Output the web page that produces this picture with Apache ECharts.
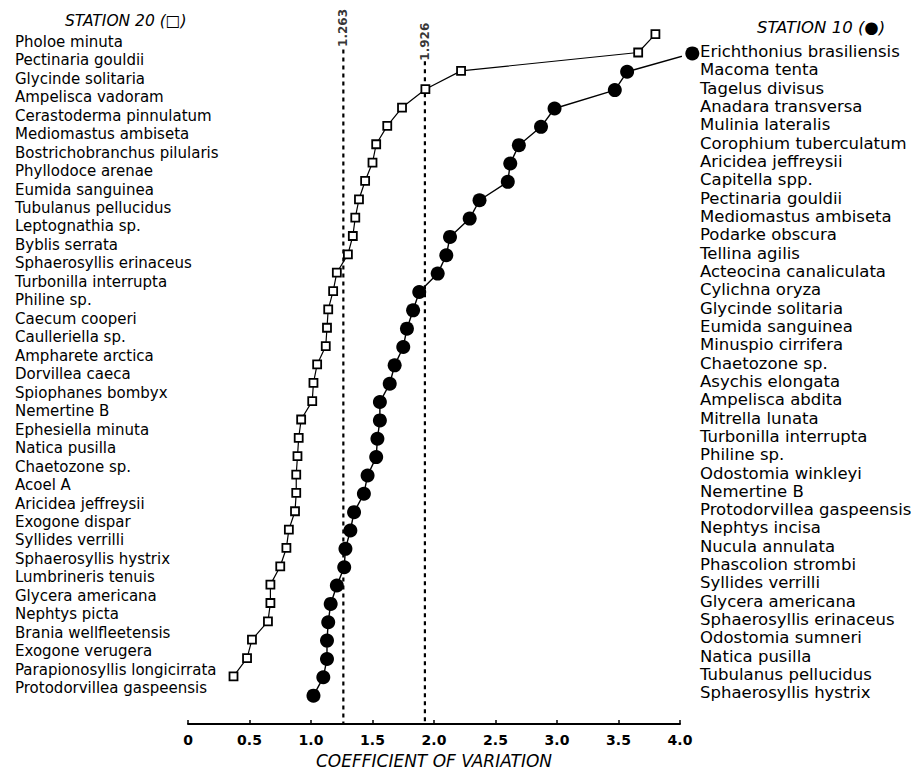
<!DOCTYPE html>
<html><head><meta charset="utf-8">
<script src="https://cdn.jsdelivr.net/npm/echarts@6/dist/echarts.min.js"></script>
<style>html,body{margin:0;padding:0;background:#fff}#c{width:917px;height:774px}</style>
</head><body><div id="c"></div>
<script>
const station20Species = [
  'Pholoe minuta','Pectinaria gouldii','Glycinde solitaria','Ampelisca vadoram',
  'Cerastoderma pinnulatum','Mediomastus ambiseta','Bostrichobranchus pilularis',
  'Phyllodoce arenae','Eumida sanguinea','Tubulanus pellucidus','Leptognathia sp.',
  'Byblis serrata','Sphaerosyllis erinaceus','Turbonilla interrupta','Philine sp.',
  'Caecum cooperi','Caulleriella sp.','Ampharete arctica','Dorvillea caeca',
  'Spiophanes bombyx','Nemertine B','Ephesiella minuta','Natica pusilla',
  'Chaetozone sp.','Acoel A','Aricidea jeffreysii','Exogone dispar',
  'Syllides verrilli','Sphaerosyllis hystrix','Lumbrineris tenuis',
  'Glycera americana','Nephtys picta','Brania wellfleetensis','Exogone verugera',
  'Parapionosyllis longicirrata','Protodorvillea gaspeensis'
];
const station20CV = [
  3.80, 3.66, 2.22, 1.93, 1.74, 1.62, 1.53, 1.50, 1.44, 1.39, 1.36, 1.34,
  1.30, 1.21, 1.18, 1.14, 1.13, 1.12, 1.05, 1.02, 1.01, 0.92, 0.90, 0.89,
  0.88, 0.88, 0.87, 0.82, 0.80, 0.75, 0.67, 0.67, 0.65, 0.52, 0.48, 0.37
];
const station10Species = [
  'Erichthonius brasiliensis','Macoma tenta','Tagelus divisus','Anadara transversa',
  'Mulinia lateralis','Corophium tuberculatum','Aricidea jeffreysii','Capitella spp.',
  'Pectinaria gouldii','Mediomastus ambiseta','Podarke obscura','Tellina agilis',
  'Acteocina canaliculata','Cylichna oryza','Glycinde solitaria','Eumida sanguinea',
  'Minuspio cirrifera','Chaetozone sp.','Asychis elongata','Ampelisca abdita',
  'Mitrella lunata','Turbonilla interrupta','Philine sp.','Odostomia winkleyi',
  'Nemertine B','Protodorvillea gaspeensis','Nephtys incisa','Nucula annulata',
  'Phascolion strombi','Syllides verrilli','Glycera americana',
  'Sphaerosyllis erinaceus','Odostomia sumneri','Natica pusilla',
  'Tubulanus pellucidus','Sphaerosyllis hystrix'
];
const station10CV = [
  4.10, 3.57, 3.47, 2.98, 2.87, 2.69, 2.62, 2.60, 2.37, 2.29, 2.13, 2.10,
  2.03, 1.88, 1.83, 1.78, 1.75, 1.68, 1.64, 1.56, 1.56, 1.54, 1.53, 1.46,
  1.43, 1.35, 1.32, 1.28, 1.27, 1.21, 1.16, 1.14, 1.13, 1.13, 1.10, 1.02
];
const xTickLabels = ['0','0.5','1.0','1.5','2.0','2.5','3.0','3.5','4.0'];
const refValues = [1.263, 1.926];
const refLabels = ['1.263', '1.926'];

const FONT = 'DejaVu Sans';
const chart = echarts.init(document.getElementById('c'), null, {renderer: 'svg'});

// vertical layout helpers (in marker-row units)
const circleOffset = 1.05;
const refTop = [0.84, 1.48];
const refLabelY = [-0.34, 0.41];
const axisBottomRow = 37.6;

const seriesList = [
  {
    type: 'line', name: 'Station 20', xAxisIndex: 0, yAxisIndex: 0,
    data: station20CV.map((v, i) => [v, i]),
    symbol: 'rect', symbolSize: 8, clip: false,
    itemStyle: {color: '#fff', borderColor: '#000', borderWidth: 1.8},
    lineStyle: {color: '#000', width: 1.2},
    z: 5, animation: false
  },
  {
    type: 'line', name: 'Station 10', xAxisIndex: 0, yAxisIndex: 0,
    data: station10CV.map((v, i) => [v, i + circleOffset]),
    symbol: 'circle', symbolSize: 14, clip: false,
    itemStyle: {color: '#000'},
    lineStyle: {color: '#000', width: 1.4},
    z: 5, animation: false
  }
];
refValues.forEach((v, k) => {
  seriesList.push({
    type: 'line', xAxisIndex: 0, yAxisIndex: 0,
    data: [[v, refTop[k]], [v, axisBottomRow]],
    symbol: 'none', clip: false,
    lineStyle: {color: '#000', width: 2.2, type: [4, 4]},
    z: 2, animation: false
  });
  seriesList.push({
    type: 'scatter', xAxisIndex: 0, yAxisIndex: 0,
    data: [[v, refLabelY[k]]], clip: false,
    symbolSize: 1, itemStyle: {color: 'rgba(0,0,0,0)'},
    label: {show: true, position: 'inside', rotate: 90, formatter: refLabels[k],
            fontFamily: FONT, fontSize: 12, fontWeight: 'bold', color: '#000'},
    silent: true, animation: false
  });
});

chart.setOption({
  backgroundColor: '#fff',
  animation: false,
  title: [
    {text: 'STATION 20 (□)', left: 60, top: 8,
     textStyle: {fontFamily: FONT, fontSize: 15.5, fontStyle: 'italic', fontWeight: 'normal', color: '#000'}},
    {text: 'STATION 10 (●)', left: 752, top: 14,
     textStyle: {fontFamily: FONT, fontSize: 16.5, fontStyle: 'italic', fontWeight: 'normal', color: '#000'}}
  ],
  grid: [
    {left: 188, right: 237, top: 15.8, height: 718},
    {left: 200, width: 10, top: 32.5, height: 665},
    {right: 217, width: 10, top: 42.5, height: 659.5}
  ],
  xAxis: [
    {
      gridIndex: 0, type: 'value', min: 0, max: 4, interval: 0.5, position: 'bottom',
      axisLine: {show: true, onZero: false, lineStyle: {color: '#000', width: 2}},
      axisTick: {show: true, inside: true, length: 4, lineStyle: {color: '#000', width: 1.5}},
      splitLine: {show: false},
      axisLabel: {
        margin: 9, color: '#000', fontFamily: FONT, fontSize: 14, fontWeight: 'bold',
        formatter: v => xTickLabels[Math.round(v / 0.5)]
      },
      name: 'COEFFICIENT OF VARIATION', nameLocation: 'middle', nameGap: 26,
      nameTextStyle: {fontFamily: FONT, fontSize: 17, fontStyle: 'italic', color: '#000'}
    },
    {gridIndex: 1, type: 'value', show: false},
    {gridIndex: 2, type: 'value', show: false}
  ],
  yAxis: [
    {gridIndex: 0, type: 'value', inverse: true, min: -1, max: axisBottomRow, show: false},
    {
      gridIndex: 1, type: 'category', inverse: true, data: station20Species, position: 'left',
      axisLine: {show: false}, axisTick: {show: false},
      axisLabel: {interval: 0, align: 'left', margin: 185, color: '#000', fontFamily: FONT, fontSize: 15}
    },
    {
      gridIndex: 2, type: 'category', inverse: true, data: station10Species, position: 'right',
      axisLine: {show: false}, axisTick: {show: false},
      axisLabel: {interval: 0, align: 'left', margin: 0, color: '#000', fontFamily: FONT, fontSize: 16.5}
    }
  ],
  series: seriesList
});
</script>
</body></html>
